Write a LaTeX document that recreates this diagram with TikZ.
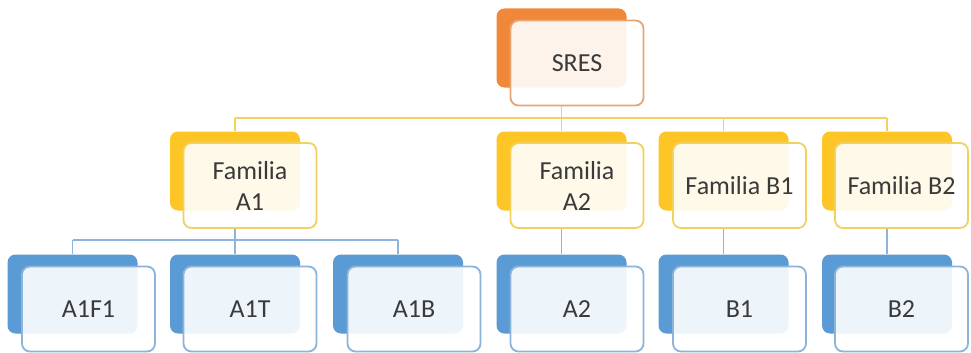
\documentclass[tikz,border=0pt]{standalone}
\usepackage{fontspec}
\setmainfont{Carlito}
\definecolor{orgback}{HTML}{F0883A}
\definecolor{orgline}{HTML}{E8A574}
\definecolor{yelback}{HTML}{FDC526}
\definecolor{yelline}{HTML}{F2D15C}
\definecolor{bluback}{HTML}{5B9BD5}
\definecolor{bluline}{HTML}{8DB4DB}
\definecolor{txt}{HTML}{3A3A3A}
\pgfdeclarelayer{links}
\pgfsetlayers{links,main}
\tikzset{
  backbox/.style={rectangle, rounded corners=8pt, minimum width=130pt, minimum height=79pt, inner sep=0pt, fill=#1},
  frontbox/.style={rectangle, rounded corners=8pt, minimum width=133pt, minimum height=85pt, inner sep=0pt,
    draw=#1, line width=1.8pt, fill=white, fill opacity=0.9, text opacity=1, text=txt,
    align=center, font=\fontsize{26}{31}\selectfont},
  ylink/.style={draw=yelline, line width=1.9pt},
  blink/.style={draw=bluline, line width=1.7pt},
}
\begin{document}
\begin{tikzpicture}[x=1pt, y=-1pt]
\useasboundingbox (0,0) rectangle (971,353);

% top level
\node[backbox=orgback] (sresB) at (561.5,48) {};
\node[frontbox=orgline] (sres) at (577,63) {SRES};

% families
\node[backbox=yelback] (fa1B) at (235,171) {};
\node[frontbox=yelline] (fa1) at (250,185.5) {Familia\\A1};
\node[backbox=yelback] (fa2B) at (561.5,171) {};
\node[frontbox=yelline] (fa2) at (577,185.5) {Familia\\A2};
\node[backbox=yelback] (fb1B) at (723.5,171) {};
\node[frontbox=yelline] (fb1) at (739.5,185.5) {Familia B1};
\node[backbox=yelback] (fb2B) at (887,171) {};
\node[frontbox=yelline] (fb2) at (901.5,185.5) {Familia B2};

% leaves
\node[backbox=bluback] (a1f1B) at (72.5,294) {};
\node[frontbox=bluline] (a1f1) at (88.5,309) {A1F1};
\node[backbox=bluback] (a1tB) at (235,294) {};
\node[frontbox=bluline] (a1t) at (250,309) {A1T};
\node[backbox=bluback] (a1bB) at (398,294) {};
\node[frontbox=bluline] (a1b) at (414,309) {A1B};
\node[backbox=bluback] (a2B) at (561.5,294) {};
\node[frontbox=bluline] (a2) at (577,309) {A2};
\node[backbox=bluback] (b1B) at (723.5,294) {};
\node[frontbox=bluline] (b1) at (739.5,309) {B1};
\node[backbox=bluback] (b2B) at (887,294) {};
\node[frontbox=bluline] (b2) at (901.5,309) {B2};

% bus levels
\coordinate (ybus) at (0,118);
\coordinate (bbus) at (0,240);

% connectors, kept behind the boxes
\begin{pgfonlayer}{links}
\fill[white] (0,0) rectangle (971,353);
% SRES to the families
\draw[ylink] (sresB.center |- sres.south) -- (sresB.center |- ybus);
\draw[ylink] (fa1B.center |- ybus) -- (fb2B.center |- ybus);
\foreach \f in {fa1B,fa2B,fb1B,fb2B}
  \draw[ylink] (\f.center |- ybus) -- (\f.north);
% Familia A1 to its three leaves
\draw[blink] (fa1B.center |- fa1.south) -- (fa1B.center |- bbus);
\draw[blink] (a1f1B.center |- bbus) -- (a1bB.center |- bbus);
\foreach \l in {a1f1B,a1tB,a1bB}
  \draw[blink] (\l.center |- bbus) -- (\l.north);
% single-leaf families
\draw[blink] (fa2B.center |- fa2.south) -- (a2B.north);
\draw[blink] (fb1B.center |- fb1.south) -- (b1B.north);
\draw[blink] (fb2B.center |- fb2.south) -- (b2B.north);
\end{pgfonlayer}
\end{tikzpicture}
\end{document}
